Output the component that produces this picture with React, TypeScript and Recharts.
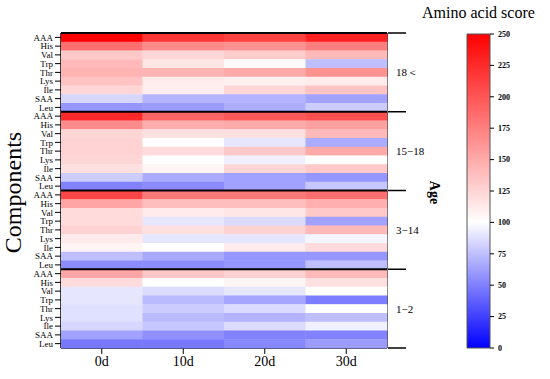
import { ScatterChart, Scatter, XAxis, YAxis, ReferenceLine, Label, BarChart, Bar } from 'recharts';

const days = ['0d', '10d', '20d', '30d'];
const aminoAcids = ['AAA', 'His', 'Val', 'Trp', 'Thr', 'Lys', 'Ile', 'SAA', 'Leu'];
const ageGroups = ['18＜', '15−18', '3−14', '1−2'];

// amino acid score per row (aminoAcids order) per day (days order)
const adultScores = [
  [250, 218, 212, 230],
  [185, 168, 165, 176],
  [132, 125, 130, 141],
  [141, 115, 103, 75],
  [144, 144, 150, 165],
  [135, 111, 109, 112],
  [124, 110, 124, 135],
  [84, 71, 70, 64],
  [59, 61, 68, 80],
];
const teenScores = [
  [226, 191, 197, 203],
  [168, 147, 150, 156],
  [124, 118, 118, 141],
  [126, 100, 90, 67],
  [126, 121, 132, 150],
  [124, 100, 94, 100],
  [118, 106, 124, 132],
  [80, 67, 63, 59],
  [51, 55, 63, 78],
];
const childScores = [
  [209, 179, 179, 185],
  [153, 138, 138, 147],
  [121, 112, 115, 132],
  [121, 90, 86, 63],
  [126, 118, 126, 141],
  [112, 90, 90, 96],
  [106, 100, 112, 121],
  [75, 66, 59, 59],
  [55, 55, 59, 75],
];
const infantScores = [
  [153, 133, 127, 141],
  [121, 100, 106, 118],
  [90, 86, 90, 100],
  [90, 73, 65, 49],
  [88, 80, 86, 100],
  [88, 73, 70, 75],
  [84, 78, 86, 94],
  [63, 56, 51, 51],
  [47, 47, 53, 61],
];
const groupScores = [adultScores, teenScores, childScores, infantScores];
const legendTicks = [0, 25, 50, 75, 100, 125, 150, 175, 200, 225, 250];

const FONT = '"Liberation Serif", "Times New Roman", serif';
const PLOT_W = 326;
const PLOT_H = 315;
const CELL_W = PLOT_W / days.length;
const CELL_H = PLOT_H / (aminoAcids.length * ageGroups.length);
const ROWS = aminoAcids.length * ageGroups.length;

const cells = groupScores.flatMap((rows, g) =>
  rows.flatMap((vals, a) =>
    vals.map((score, d) => ({ x: d + 0.5, y: g * aminoAcids.length + a + 0.5, score }))
  )
);

const scoreColor = (v: number) => {
  if (v >= 100) {
    const t = Math.min(1, (v - 100) / 150);
    const c = Math.round(255 * (1 - t));
    return `rgb(255,${c},${c})`;
  }
  const c = Math.round(255 * Math.max(0, v / 100));
  return `rgb(${c},${c},255)`;
};

const CellShape = (props: any) => {
  const { cx, cy, payload } = props;
  return (
    <rect
      x={cx - CELL_W / 2}
      y={cy - CELL_H / 2}
      width={CELL_W + 0.4}
      height={CELL_H + 0.4}
      fill={scoreColor(payload.score)}
    />
  );
};

const rowTicks = Array.from({ length: ROWS }, (_, i) => i + 0.5);
const ageTicks = Array.from({ length: ageGroups.length * 2 + 1 }, (_, i) => i * (aminoAcids.length / 2));

const renderAgeTick = (props: any) => {
  const { x, y, payload } = props;
  const v = payload.value;
  const step = aminoAcids.length;
  if (Math.abs(v / step - Math.round(v / step)) < 1e-6) {
    return <line x1={x} x2={x + 18} y1={y} y2={y} stroke="#000" strokeWidth={1.5} />;
  }
  const idx = Math.floor(v / step);
  return (
    <text x={x + 8} y={y + 4} fontSize={11} fontFamily={FONT} fill="#000">
      {ageGroups[idx]}
    </text>
  );
};

export default function App() {
  return (
    <div style={{ position: 'absolute', left: 0, top: 0, width: 550, height: 379, fontFamily: FONT }}>
      <ScatterChart width={550} height={379} margin={{ top: 33, right: 0, bottom: 0, left: 0 }}>
        <XAxis
          type="number"
          dataKey="x"
          domain={[0, days.length]}
          ticks={days.map((_, i) => i + 0.5)}
          tickFormatter={(v: number) => days[Math.floor(v)]}
          interval={0}
          height={31}
          tickSize={6}
          tickMargin={2}
          axisLine={{ stroke: '#000', strokeWidth: 1.5 }}
          tickLine={{ stroke: '#000' }}
          tick={{ fontSize: 14, fontFamily: FONT, fill: '#000' }}
        />
        <YAxis
          type="number"
          dataKey="y"
          domain={[0, ROWS]}
          reversed
          ticks={rowTicks}
          interval={0}
          tickFormatter={(v: number) => aminoAcids[Math.floor(v) % aminoAcids.length]}
          width={61}
          tickSize={6}
          tickMargin={2}
          axisLine={{ stroke: '#000', strokeWidth: 1.5 }}
          tickLine={{ stroke: '#000' }}
          tick={{ fontSize: 9, fontFamily: FONT, fill: '#000' }}
        >
          <Label
            content={({ viewBox }: any) => {
              const cx = viewBox.x + 13;
              const cy = viewBox.y + viewBox.height / 2 + 2;
              return (
                <text x={cx} y={cy} transform={`rotate(-90 ${cx} ${cy})`} textAnchor="middle" dominantBaseline="central" fontSize={24} fontFamily={FONT} fill="#000">
                  Components
                </text>
              );
            }}
          />
        </YAxis>
        <YAxis
          yAxisId="age"
          dataKey="y"
          orientation="right"
          type="number"
          domain={[0, ROWS]}
          reversed
          ticks={ageTicks}
          interval={0}
          width={163}
          tickSize={1}
          tickMargin={0}
          tickLine={false}
          axisLine={{ stroke: '#000', strokeWidth: 1.5 }}
          tick={renderAgeTick}
        >
          <Label
            content={({ viewBox }: any) => {
              const cx = viewBox.x + 47;
              const cy = viewBox.y + viewBox.height / 2 + 2;
              return (
                <text x={cx} y={cy} transform={`rotate(90 ${cx} ${cy})`} textAnchor="middle" dominantBaseline="central" fontSize={14} fontWeight="bold" fontFamily={FONT} fill="#000">
                  Age
                </text>
              );
            }}
          />
        </YAxis>
        <Scatter data={cells} shape={<CellShape />} isAnimationActive={false} />
        <Scatter yAxisId="age" data={cells} shape={() => <g />} isAnimationActive={false} />
        <ReferenceLine y={0} stroke="#000" strokeWidth={2} zIndex={1000} />
        {ageGroups.slice(1).map((_, i) => (
          <ReferenceLine key={i} y={(i + 1) * aminoAcids.length} stroke="#000" strokeWidth={2} zIndex={1000} />
        ))}
      </ScatterChart>

      <div style={{ position: 'absolute', left: 422, top: 3, fontSize: 16, lineHeight: '20px', whiteSpace: 'nowrap', color: '#000' }}>
        Amino acid score
      </div>

      <div style={{ position: 'absolute', left: 450, top: 0 }}>
        <BarChart width={100} height={379} data={[{ name: 'score', value: 250 }]} margin={{ top: 34, right: 0, bottom: 31, left: 17 }} barCategoryGap={0}>
          <defs>
            <linearGradient id="scoreGrad" x1="0" y1="0" x2="0" y2="1">
              <stop offset="0" stopColor="#ff0000" />
              <stop offset="0.6" stopColor="#ffffff" />
              <stop offset="1" stopColor="#0000ff" />
            </linearGradient>
          </defs>
          <XAxis dataKey="name" hide />
          <YAxis
            orientation="right"
            type="number"
            domain={[0, 250]}
            ticks={legendTicks}
            interval={0}
            width={60}
            axisLine={false}
            tickSize={4}
            tickMargin={4}
            tickLine={{ stroke: '#000' }}
            tick={{ fontSize: 8, fontWeight: 'bold', fontFamily: FONT, fill: '#000', textAnchor: 'start' }}
          />
          <Bar dataKey="value" fill="url(#scoreGrad)" stroke="#555" strokeWidth={1} isAnimationActive={false} />
        </BarChart>
      </div>
    </div>
  );
}
